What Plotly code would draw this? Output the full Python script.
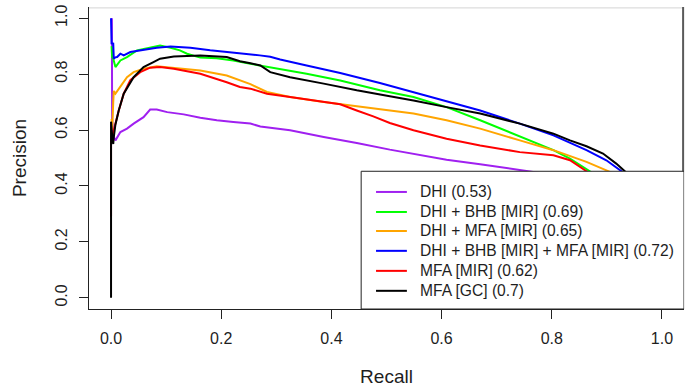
import plotly.graph_objects as go

# ---- data ----
series_names = [
    "DHI (0.53)",
    "DHI + BHB [MIR] (0.69)",
    "DHI + MFA [MIR] (0.65)",
    "DHI + BHB [MIR] + MFA [MIR] (0.72)",
    "MFA [MIR] (0.62)",
    "MFA [GC] (0.7)",
]
series_colors = ["#A020F0", "#00FF00", "#FFA500", "#0000FF", "#FF0000", "#000000"]

dhi_recall = [0.0015, 0.0015, 0.002, 0.004, 0.008, 0.017, 0.029, 0.041, 0.059, 0.071, 0.083, 0.102,
              0.132, 0.162, 0.192, 0.222, 0.253, 0.271, 0.325, 0.386, 0.446, 0.506, 0.549, 0.609,
              0.670, 0.742, 0.80]
dhi_precision = [1.0, 0.87, 0.64, 0.58, 0.563, 0.593, 0.605, 0.623, 0.646, 0.673, 0.673, 0.664,
                 0.656, 0.644, 0.635, 0.629, 0.623, 0.613, 0.599, 0.575, 0.554, 0.530, 0.516, 0.494,
                 0.478, 0.456, 0.44]

bhb_recall = [0.001, 0.002, 0.004, 0.008, 0.017, 0.029, 0.047, 0.071, 0.089, 0.108, 0.125, 0.138,
              0.162, 0.192, 0.222, 0.253, 0.271, 0.295, 0.355, 0.416, 0.488, 0.549, 0.609, 0.670,
              0.760, 0.803, 0.833, 0.869, 0.89]
bhb_precision = [0.90, 0.86, 0.855, 0.825, 0.849, 0.861, 0.885, 0.896, 0.902, 0.894, 0.885, 0.873,
                 0.859, 0.857, 0.849, 0.837, 0.831, 0.823, 0.801, 0.777, 0.742, 0.718, 0.682, 0.635,
                 0.563, 0.528, 0.498, 0.4525, 0.42]

mfa_recall = [0.001, 0.002, 0.004, 0.005, 0.008, 0.017, 0.029, 0.041, 0.059, 0.083, 0.114, 0.162,
              0.210, 0.234, 0.253, 0.283, 0.325, 0.386, 0.416, 0.464, 0.506, 0.549, 0.609, 0.670,
              0.742, 0.803, 0.863, 0.905, 0.93]
mfa_precision = [0.64, 0.60, 0.70, 0.74, 0.73, 0.754, 0.789, 0.807, 0.819, 0.828, 0.823, 0.813,
                 0.795, 0.778, 0.764, 0.736, 0.718, 0.700, 0.692, 0.680, 0.668, 0.659, 0.635, 0.605,
                 0.563, 0.528, 0.486, 0.4525, 0.43]

both_recall = [0.0, 0.001, 0.004, 0.005, 0.008, 0.011, 0.017, 0.023, 0.035, 0.059, 0.083, 0.108,
               0.144, 0.180, 0.234, 0.270, 0.289, 0.307, 0.355, 0.416, 0.488, 0.579, 0.670, 0.742,
               0.803, 0.863, 0.899, 0.9265, 0.94]
both_precision = [1.0, 0.91, 0.909, 0.855, 0.86, 0.861, 0.873, 0.867, 0.879, 0.887, 0.894, 0.899,
                  0.894, 0.885, 0.875, 0.867, 0.862, 0.852, 0.831, 0.804, 0.768, 0.718, 0.670, 0.623,
                  0.581, 0.528, 0.492, 0.4525, 0.42]

mir_recall = [0.0, 0.0, 0.002, 0.005, 0.014, 0.023, 0.035, 0.053, 0.071, 0.089, 0.114, 0.162,
              0.210, 0.234, 0.253, 0.283, 0.325, 0.386, 0.416, 0.446, 0.476, 0.506, 0.549, 0.609,
              0.670, 0.742, 0.803, 0.833, 0.863, 0.88]
mir_precision = [0.29, 0.55, 0.58, 0.599, 0.670, 0.730, 0.778, 0.807, 0.823, 0.825, 0.819, 0.801,
                 0.771, 0.754, 0.748, 0.730, 0.718, 0.700, 0.692, 0.670, 0.649, 0.625, 0.599, 0.569,
                 0.545, 0.521, 0.510, 0.492, 0.4525, 0.42]

gc_recall = [0.0, 0.0, 0.002, 0.004, 0.005, 0.008, 0.014, 0.023, 0.041, 0.059, 0.077, 0.089, 0.114,
             0.162, 0.210, 0.234, 0.253, 0.271, 0.289, 0.325, 0.386, 0.446, 0.506, 0.549, 0.609,
             0.670, 0.742, 0.803, 0.833, 0.863, 0.893, 0.917, 0.9325, 0.945]
gc_precision = [0.0, 0.63, 0.58, 0.55, 0.575, 0.62, 0.670, 0.730, 0.789, 0.825, 0.843, 0.855, 0.863,
                0.867, 0.861, 0.846, 0.839, 0.831, 0.807, 0.789, 0.766, 0.742, 0.721, 0.706, 0.682,
                0.659, 0.623, 0.587, 0.563, 0.542, 0.516, 0.480, 0.4525, 0.42]

x_ticks = [0.0, 0.2, 0.4, 0.6, 0.8, 1.0]
y_ticks = [0.0, 0.2, 0.4, 0.6, 0.8, 1.0]
tick_labels = ["0.0", "0.2", "0.4", "0.6", "0.8", "1.0"]

recalls = [dhi_recall, bhb_recall, mfa_recall, both_recall, mir_recall, gc_recall]
precisions = [dhi_precision, bhb_precision, mfa_precision, both_precision, mir_precision, gc_precision]

# ---- figure ----
FONT = "Liberation Sans, Arial, sans-serif"
TXT = "#1e1e1e"

fig = go.Figure()
for name, col, r, p in zip(series_names, series_colors, recalls, precisions):
    fig.add_trace(go.Scatter(x=r, y=p, mode="lines", name=name,
                             line=dict(color=col, width=2), showlegend=False,
                             hoverinfo="skip"))

X0, X1 = -0.04, 1.04
Y0, Y1 = -0.04, 1.04

fig.update_layout(
    width=687, height=389,
    margin=dict(l=89, r=3, t=7, b=80),
    paper_bgcolor="white", plot_bgcolor="white",
    font=dict(family=FONT, size=16, color=TXT),
    hovermode=False,
    xaxis=dict(range=[X0, X1], tickvals=x_ticks, ticktext=tick_labels, automargin=False,
               ticks="outside", ticklen=9, tickcolor="#222", tickwidth=1,
               ticklabelstandoff=6, ticklabeloverflow="allow",
               showgrid=False, zeroline=False, showline=True, linecolor="#222",
               linewidth=1, title=dict(text="Recall", standoff=23)),
    yaxis=dict(range=[Y0, Y1], tickvals=y_ticks, ticktext=tick_labels, automargin=False,
               ticks="outside", ticklen=9, tickcolor="#222", tickwidth=1,
               ticklabelstandoff=6, ticklabeloverflow="allow",
               tickangle=-90, showgrid=False, zeroline=False, showline=True,
               linecolor="#222", linewidth=1,
               title=dict(text="Precision", standoff=20)),
)

# frame top/right
fig.add_shape(type="line", xref="paper", yref="paper", x0=0, x1=1, y0=0.997, y1=0.997,
              line=dict(color="#d4d4d4", width=1))
fig.add_shape(type="line", xref="paper", yref="paper", x0=0.9985, x1=0.9985, y0=0, y1=1,
              line=dict(color="#5a5a5a", width=2))

# legend box (drawn manually to match R's legend layout)
leg_x0, leg_x1 = 0.454, 1.04
leg_y0, leg_y1 = -0.04, 0.4525
fig.add_shape(type="rect", xref="x", yref="y", x0=leg_x0, x1=leg_x1, y0=leg_y0, y1=leg_y1,
              line=dict(color="#222", width=1), fillcolor="white", layer="above")
row_y = [0.3786, 0.307, 0.239, 0.168, 0.0964, 0.025]
for name, col, yy in zip(series_names, series_colors, row_y):
    fig.add_shape(type="line", xref="x", yref="y", x0=0.481, x1=0.537, y0=yy, y1=yy,
                  line=dict(color=col, width=2), layer="above")
    fig.add_annotation(x=0.557, y=yy, xref="x", yref="y", text=name, showarrow=False,
                       xanchor="left", yanchor="middle", font=dict(size=15.6, color=TXT))

fig.write_html("out.html", config={"displayModeBar": False},
               post_script="document.body.style.margin='0px';document.body.style.padding='0px';")
